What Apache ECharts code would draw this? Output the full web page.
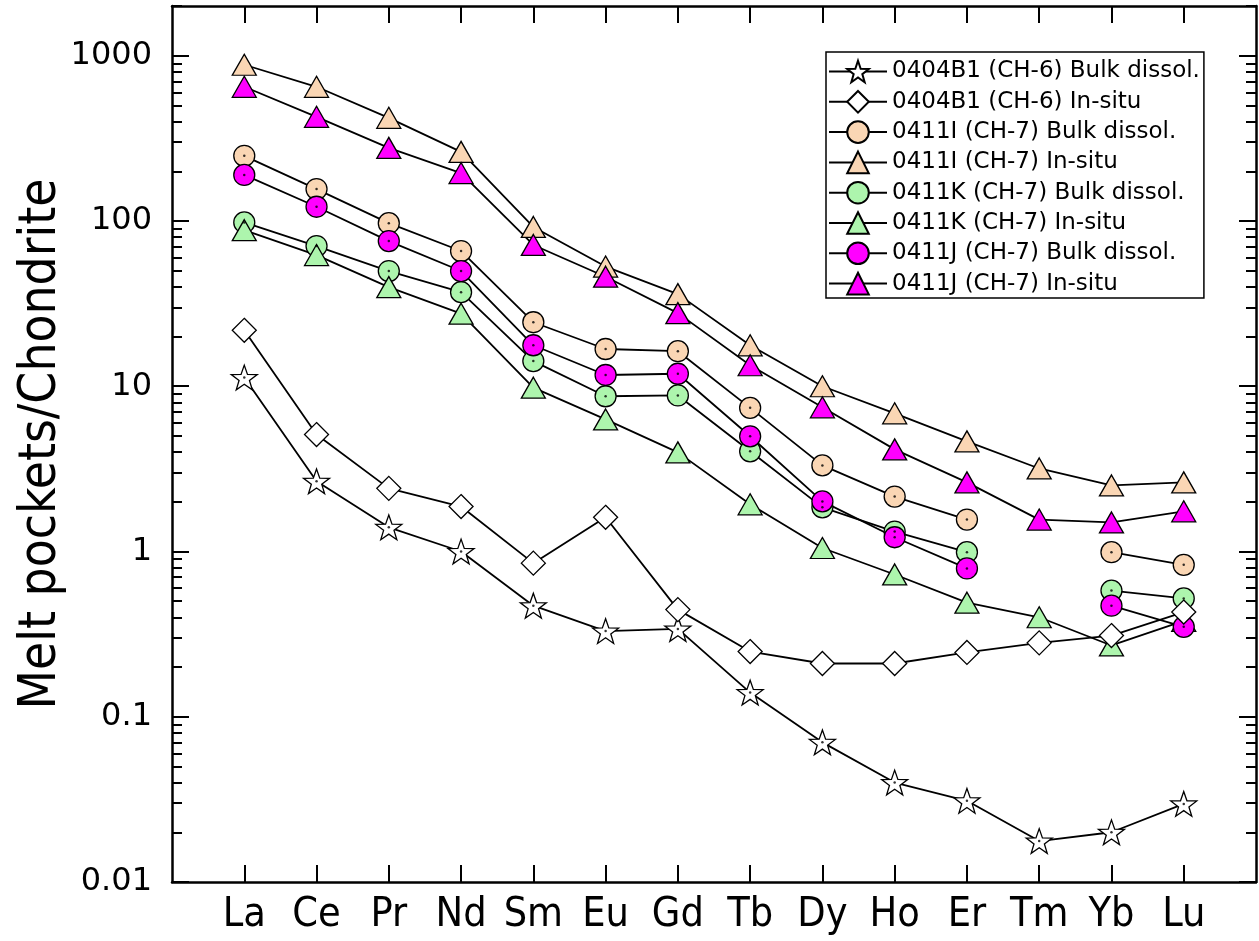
<!DOCTYPE html>
<html>
<head>
<meta charset="utf-8">
<script src="https://cdn.jsdelivr.net/npm/echarts@6/dist/echarts.min.js"></script>
<style>
html,body{margin:0;padding:0;background:#fff;}
#chart{width:1259px;height:941px;}
</style>
</head>
<body>
<div id="chart"></div>
<script>
// ---- data ----
const elements = ['La','Ce','Pr','Nd','Sm','Eu','Gd','Tb','Dy','Ho','Er','Tm','Yb','Lu'];
const b1Bulk   = [11.3, 2.66, 1.40, 1.0, 0.47, 0.33, 0.34, 0.14, 0.070, 0.040, 0.031, 0.0177, 0.020, 0.0297];
const b1Insitu = [21.8, 5.1, 2.41, 1.87, 0.85, 1.61, 0.445, 0.248, 0.21, 0.21, 0.245, 0.28, 0.31, 0.43];
const iBulk    = [248, 156, 97, 65.8, 24.4, 16.8, 16.3, 7.4, 3.32, 2.15, 1.56, null, 0.99, 0.83];
const iInsitu  = [882, 649, 421, 262, 92, 53, 36.1, 17.7, 10, 6.86, 4.64, 3.18, 2.51, 2.62];
const kBulk    = [98, 70.5, 49.8, 37.1, 14.2, 8.7, 8.8, 4.04, 1.85, 1.32, 0.99, null, 0.58, 0.52];
const kInsitu  = [88, 62.2, 39.8, 27.5, 9.8, 6.3, 3.98, 1.93, 1.05, 0.726, 0.49, 0.40, 0.27, 0.38];
const jBulk    = [190, 122, 75.6, 49.8, 17.7, 11.7, 11.9, 4.98, 2.01, 1.22, 0.79, null, 0.47, 0.35];
const jInsitu  = [649, 427, 277, 195, 71.6, 46, 27.7, 13.4, 7.46, 4.15, 2.62, 1.56, 1.5, 1.75];
const seriesNames = [
  '0404B1 (CH-6) Bulk dissol.', '0404B1 (CH-6) In-situ',
  '0411I (CH-7) Bulk dissol.', '0411I (CH-7) In-situ',
  '0411K (CH-7) Bulk dissol.', '0411K (CH-7) In-situ',
  '0411J (CH-7) Bulk dissol.', '0411J (CH-7) In-situ'
];
const yTickValues = [0.01, 0.1, 1, 10, 100, 1000];
const yTickLabels = ['0.01', '0.1', '1', '10', '100', '1000'];
const yTitle = 'Melt pockets/Chondrite';

// ---- styling ----
const PEACH = '#FAD6B4', GREEN = '#ADF5AD', MAGENTA = '#FF00FF';
const STAR = 'path://M50,0 L61.76,33.82 L97.55,34.55 L69.02,56.18 L79.39,90.45 L50,70 L20.61,90.45 L30.98,56.18 L2.45,34.55 L38.24,33.82 Z';
const minorVals = [];
for (let e = -2; e <= 3; e++) for (let m = 2; m <= 9; m++) { const v = m * Math.pow(10, e); if (v <= 2000) minorVals.push(v); }
const xTicks = elements.map((_, i) => i + 1);

function pts(arr) { return arr.map((v, i) => [i + 1, v]); }
function dots(arr) { return arr.map((v, i) => v == null ? null : [i + 1, v]).filter(p => p); }

function mkSeries(name, arr, symbol, size, color, z) {
  return {
    name, type: 'line', data: pts(arr), connectNulls: false,
    symbol, symbolSize: size, symbolKeepAspect: true, showAllSymbol: true,
    lineStyle: { color: '#000', width: 1.8 },
    itemStyle: { color: color, borderColor: '#000', borderWidth: 1.3 },
    z: z || 2, animation: false, emphasis: { disabled: true }
  };
}
function dotSeries(arr) {
  return { type: 'scatter', data: dots(arr), symbol: 'circle', symbolSize: 2.5,
    itemStyle: { color: '#000' }, z: 5, silent: true, animation: false };
}

const yFmt = v => { let best = 0; yTickValues.forEach((t, i) => { if (Math.abs(Math.log10(t) - Math.log10(v)) < Math.abs(Math.log10(yTickValues[best]) - Math.log10(v))) best = i; }); return yTickLabels[best]; };
const xFmt = v => elements[Math.round(v) - 1] || '';

const baseY = { type: 'log', logBase: 10, min: 0.01, max: 2000, gridIndex: 0, splitLine: { show: false } };
const baseX = { type: 'value', min: 0, max: 15, splitLine: { show: false } };

const option = {
  backgroundColor: '#fff',
  animation: false,
  grid: { left: 172, right: 3, top: 6, bottom: 59, show: false },
  legend: {
    data: seriesNames, orient: 'vertical', left: 826, top: 52,
    itemWidth: 58, itemHeight: 27, itemGap: 3.3,
    padding: [6, 4, 1, 2], borderColor: '#000', borderWidth: 1.5,
    textStyle: { fontFamily: 'DejaVu Sans', fontSize: 23, lineHeight: 27, color: '#000' },
    selectedMode: false
  },
  xAxis: [
    Object.assign({}, baseX, {
      position: 'bottom',
      axisLine: { show: true, lineStyle: { color: '#000', width: 2.5 } },
      axisTick: { show: true, inside: true, length: 17, customValues: xTicks, lineStyle: { color: '#000', width: 2 } },
      axisLabel: { customValues: xTicks, formatter: xFmt, margin: 13,
        fontFamily: 'DejaVu Sans', fontWeight: 'condensed', fontSize: 41, color: '#000' }
    }),
    Object.assign({}, baseX, {
      position: 'top',
      axisLine: { show: true, lineStyle: { color: '#000', width: 2.5 } },
      axisTick: { show: true, inside: true, length: 17, customValues: xTicks, lineStyle: { color: '#000', width: 2 } },
      axisLabel: { show: false }
    })
  ],
  yAxis: [
    Object.assign({}, baseY, {
      position: 'left',
      axisLine: { show: true, lineStyle: { color: '#000', width: 2.5 } },
      axisTick: { show: true, inside: true, length: 17, customValues: yTickValues, lineStyle: { color: '#000', width: 2 } },
      axisLabel: { customValues: yTickValues, formatter: yFmt, margin: 20,
        fontFamily: 'DejaVu Sans', fontSize: 32, color: '#000' },
      name: yTitle, nameLocation: 'middle', nameGap: 105, nameRotate: 90, nameMoveOverlap: false,
      nameTextStyle: { fontFamily: 'DejaVu Sans', fontWeight: 'condensed', fontSize: 51, color: '#000' }
    }),
    Object.assign({}, baseY, {
      position: 'left',
      axisLine: { show: false },
      axisTick: { show: true, inside: true, length: 10, customValues: minorVals, lineStyle: { color: '#000', width: 2 } },
      axisLabel: { show: false }
    }),
    Object.assign({}, baseY, {
      position: 'right',
      axisLine: { show: true, lineStyle: { color: '#000', width: 2.5 } },
      axisTick: { show: true, inside: true, length: 17, customValues: yTickValues, lineStyle: { color: '#000', width: 2 } },
      axisLabel: { show: false }
    }),
    Object.assign({}, baseY, {
      position: 'right',
      axisLine: { show: false },
      axisTick: { show: true, inside: true, length: 10, customValues: minorVals, lineStyle: { color: '#000', width: 2 } },
      axisLabel: { show: false }
    })
  ],
  series: [
    mkSeries(seriesNames[0], b1Bulk, STAR, 26, '#fff', 2),
    mkSeries(seriesNames[1], b1Insitu, 'diamond', 24, '#fff', 4),
    mkSeries(seriesNames[2], iBulk, 'circle', 21, PEACH, 2),
    mkSeries(seriesNames[3], iInsitu, 'triangle', [24, 21], PEACH, 2),
    mkSeries(seriesNames[4], kBulk, 'circle', 21, GREEN, 2),
    mkSeries(seriesNames[5], kInsitu, 'triangle', [24, 21], GREEN, 2),
    mkSeries(seriesNames[6], jBulk, 'circle', 21, MAGENTA, 2),
    mkSeries(seriesNames[7], jInsitu, 'triangle', [24, 21], MAGENTA, 2),
    dotSeries(b1Bulk), dotSeries(iBulk), dotSeries(kBulk), dotSeries(jBulk)
  ]
};
const chart = echarts.init(document.getElementById('chart'), null, { renderer: 'canvas' });
chart.setOption(option);
</script>
</body>
</html>
